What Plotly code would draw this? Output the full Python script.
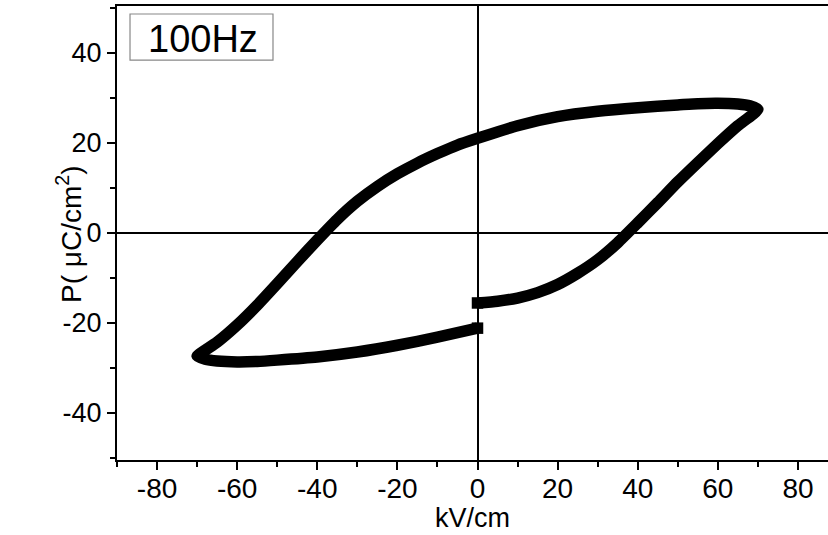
import plotly.graph_objects as go

# Branch 1: rising from E=0 to +Emax
E1 = [0, 5, 10, 15, 20, 25, 30, 35, 40, 45, 50, 55, 60, 65, 70]
P1 = [-15.6, -15.2, -14.5, -13.3, -11.5, -9.0, -6.0, -2.2, 2.2, 6.7, 11.3, 15.6, 19.8, 23.8, 27.4]
# Branch 2: upper branch from +Emax to -Emax
E2 = [68, 65, 60, 55, 50, 40, 30, 20, 10, 0, -5, -10, -15, -20, -25, -30, -35, -40, -45, -50, -55, -60, -65, -68, -70]
P2 = [28.2, 28.6, 28.8, 28.7, 28.4, 27.8, 27.0, 25.8, 23.8, 21.0, 19.5, 17.6, 15.5, 13.1, 10.3, 7.0, 3.0, -1.6, -6.4, -11.3, -16.1, -20.5, -24.3, -26.1, -27.4]
# Branch 3: lower branch from -Emax back to E=0
E3 = [-68, -65, -60, -55, -50, -40, -30, -20, -10, 0]
P3 = [-28.1, -28.5, -28.7, -28.6, -28.3, -27.6, -26.5, -25.0, -23.2, -21.2]

E = E1 + E2 + E3
P = P1 + P2 + P3

x_ticks = [-80, -60, -40, -20, 0, 20, 40, 60, 80]
y_ticks = [-40, -20, 0, 20, 40]

FONT = "Arial, Liberation Sans, sans-serif"

fig = go.Figure()
fig.add_trace(go.Scatter(
    x=E, y=P, mode="lines",
    line=dict(color="black", width=11.5, shape="spline", smoothing=0.5),
    showlegend=False, hoverinfo="skip"))
fig.add_trace(go.Scatter(
    x=[E[0], E[-1]], y=[P[0], P[-1]], mode="markers",
    marker=dict(symbol="square", size=11.5, color="black", line=dict(width=0)),
    showlegend=False, hoverinfo="skip"))

axis_common = dict(
    showgrid=False, zeroline=True, zerolinecolor="black", zerolinewidth=1.5,
    showline=True, linecolor="black", linewidth=2,
    ticks="outside", ticklen=8, tickwidth=1.5, tickcolor="black",
)

fig.update_layout(
    width=828, height=535,
    margin=dict(l=117, r=0, t=6, b=75),
    paper_bgcolor="white", plot_bgcolor="white",
    font=dict(family=FONT, color="black"),
    xaxis=dict(
        range=[-90, 87.5], tickvals=x_ticks, ticktext=[str(v) for v in x_ticks],
        tickfont=dict(size=28), mirror=True, ticklabelstandoff=-6,
        minor=dict(dtick=10, tick0=0, ticks="outside", ticklen=5, tickwidth=1.5, tickcolor="black"),
        **axis_common),
    yaxis=dict(
        range=[-50.5, 50.4], tickvals=y_ticks, ticktext=[str(v) for v in y_ticks],
        tickfont=dict(size=27), mirror=False,
        minor=dict(dtick=10, tick0=0, ticks="outside", ticklen=5, tickwidth=1.5, tickcolor="black"),
        **axis_common),
)

# axis titles placed as annotations (pixel-matched positions)
fig.add_annotation(text="kV/cm", xref="paper", yref="paper", x=(472 - 117) / 711, y=1 - (518 - 6) / 454,
                   showarrow=False, font=dict(size=27, family=FONT, color="black"),
                   xanchor="center", yanchor="middle")
fig.add_annotation(text="P( μC/cm<sup>2</sup>)", xref="paper", yref="paper", x=(69 - 117) / 711, y=1 - (235 - 6) / 454,
                   showarrow=False, textangle=-90, font=dict(size=28, family=FONT, color="black"),
                   xanchor="center", yanchor="middle")

fig.add_shape(type="rect", xref="paper", yref="paper",
              x0=0.0183, x1=0.2194, y0=0.881, y1=0.9824,
              line=dict(color="#888888", width=1.2), fillcolor="white")
fig.add_annotation(text="100Hz", xref="paper", yref="paper", x=0.1213, y=0.9273,
                   showarrow=False, font=dict(size=38, family=FONT, color="black"),
                   xanchor="center", yanchor="middle")

fig.write_html("out.html")
